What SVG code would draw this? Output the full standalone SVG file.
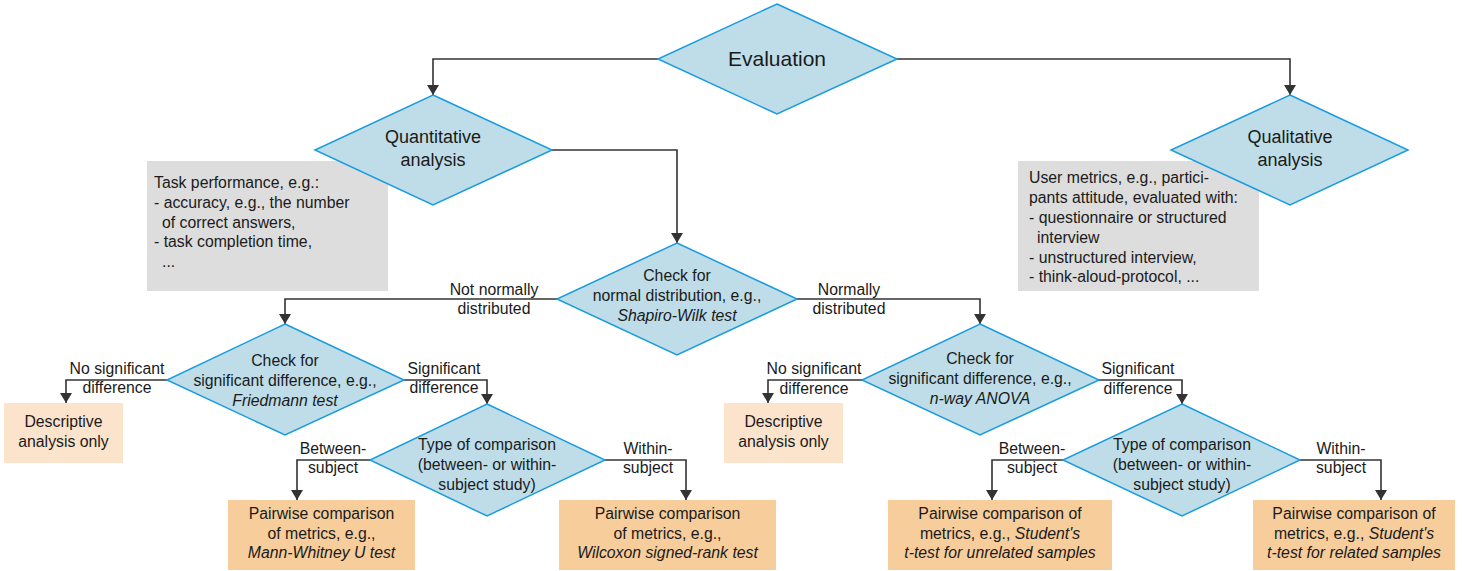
<svg xmlns="http://www.w3.org/2000/svg" width="1467" height="571" viewBox="0 0 1467 571">
<defs>
<style>
text{font-family:"Liberation Sans",Arial,sans-serif;font-size:15.8px;fill:#1a1a1a}
.c{text-anchor:middle}
.big{font-size:21px}
.mid{font-size:18px}
.i{font-style:italic}
.dia{fill:#bedde9;stroke:#199cde;stroke-width:1.5}
.gray{fill:#dddddd}
.desc{fill:#fbe3cc}
.pair{fill:#f7cd9c}
.con{fill:none;stroke:#333;stroke-width:1.6}
</style>
<marker id="ah" markerWidth="10" markerHeight="12" viewBox="0 0 10 12" refX="10" refY="6" orient="auto" markerUnits="userSpaceOnUse">
<path d="M0,0 L10,6 L0,12 Z" fill="#333"/>
</marker>
</defs>
<rect width="1467" height="571" fill="#fff"/>

<g id="note-quant">
<rect class="gray" x="147" y="161" width="241" height="130"/>
<text x="154" y="188">Task performance, e.g.:</text>
<text x="154" y="208">- accuracy, e.g., the number</text>
<text x="162" y="228">of correct answers,</text>
<text x="154" y="247">- task completion time,</text>
<text x="162" y="267">...</text>
</g>
<g id="note-qual">
<rect class="gray" x="1018" y="161" width="241" height="130"/>
<text x="1029" y="183">User metrics, e.g., partici-</text>
<text x="1029" y="203">pants attitude, evaluated with:</text>
<text x="1029" y="223">- questionnaire or structured</text>
<text x="1037" y="243">interview</text>
<text x="1029" y="263">- unstructured interview,</text>
<text x="1029" y="282">- think-aloud-protocol, ...</text>
</g>

<g id="connectors">
<path class="con" d="M658,59 H433 V95" marker-end="url(#ah)"/>
<path class="con" d="M897,59 H1290 V95" marker-end="url(#ah)"/>
<path class="con" d="M552,150 H677 V243" marker-end="url(#ah)"/>
<path class="con" d="M557,299 H285 V324" marker-end="url(#ah)"/>
<path class="con" d="M797,299 H980 V324" marker-end="url(#ah)"/>
<path class="con" d="M167,380 H66 V403" marker-end="url(#ah)"/>
<path class="con" d="M404,380 H487 V404" marker-end="url(#ah)"/>
<path class="con" d="M862,380 H768 V403" marker-end="url(#ah)"/>
<path class="con" d="M1099,380 H1182 V404" marker-end="url(#ah)"/>
<path class="con" d="M370,460 H297 V500" marker-end="url(#ah)"/>
<path class="con" d="M605,460 H686 V500" marker-end="url(#ah)"/>
<path class="con" d="M1063,460 H992 V500" marker-end="url(#ah)"/>
<path class="con" d="M1300,460 H1381 V500" marker-end="url(#ah)"/>
<text class="c" x="494" y="295">Not normally</text>
<text class="c" x="494" y="314">distributed</text>
<text class="c" x="849" y="295">Normally</text>
<text class="c" x="849" y="314">distributed</text>
<text class="c" x="117" y="374">No significant</text>
<text class="c" x="117" y="393">difference</text>
<text class="c" x="444" y="374">Significant</text>
<text class="c" x="444" y="393">difference</text>
<text class="c" x="814" y="374">No significant</text>
<text class="c" x="814" y="394">difference</text>
<text class="c" x="1138" y="374">Significant</text>
<text class="c" x="1138" y="394">difference</text>
<text class="c" x="333" y="454">Between-</text>
<text class="c" x="333" y="473">subject</text>
<text class="c" x="648" y="454">Within-</text>
<text class="c" x="648" y="473">subject</text>
<text class="c" x="1032" y="454">Between-</text>
<text class="c" x="1032" y="473">subject</text>
<text class="c" x="1341" y="454">Within-</text>
<text class="c" x="1341" y="473">subject</text>
</g>

<g id="evaluation">
<polygon class="dia" points="777,4 897,59 777,114 658,59"/>
<text class="c big" x="777" y="66">Evaluation</text>
</g>
<g id="quantitative">
<polygon class="dia" points="433,95 552,150 433,205 315,150"/>
<text class="c mid" x="433" y="143">Quantitative</text>
<text class="c mid" x="433" y="166">analysis</text>
</g>
<g id="qualitative">
<polygon class="dia" points="1290,95 1408,150 1290,205 1171,150"/>
<text class="c mid" x="1290" y="143">Qualitative</text>
<text class="c mid" x="1290" y="166">analysis</text>
</g>
<g id="check-normal">
<polygon class="dia" points="677,243 797,299 677,355 557,299"/>
<text class="c" x="677" y="281">Check for</text>
<text class="c" x="677" y="301">normal distribution, e.g.,</text>
<text class="c i" x="677" y="321">Shapiro-Wilk test</text>
</g>
<g id="check-friedmann">
<polygon class="dia" points="285,324 404,380 285,435 167,380"/>
<text class="c" x="285" y="366">Check for</text>
<text class="c" x="285" y="386">significant difference, e.g.,</text>
<text class="c i" x="285" y="406">Friedmann test</text>
</g>
<g id="check-anova">
<polygon class="dia" points="980,324 1099,380 980,435 862,380"/>
<text class="c" x="980" y="364">Check for</text>
<text class="c" x="980" y="384">significant difference, e.g.,</text>
<text class="c i" x="980" y="404">n-way ANOVA</text>
</g>
<g id="type-left">
<polygon class="dia" points="487,404 605,460 487,516 370,460"/>
<text class="c" x="487" y="450">Type of comparison</text>
<text class="c" x="487" y="470">(between- or within-</text>
<text class="c" x="487" y="490">subject study)</text>
</g>
<g id="type-right">
<polygon class="dia" points="1182,404 1300,460 1182,516 1063,460"/>
<text class="c" x="1182" y="450">Type of comparison</text>
<text class="c" x="1182" y="470">(between- or within-</text>
<text class="c" x="1182" y="490">subject study)</text>
</g>
<g id="desc-left">
<rect class="desc" x="4" y="403" width="119" height="60"/>
<text class="c" x="63.5" y="427">Descriptive</text>
<text class="c" x="63.5" y="447">analysis only</text>
</g>
<g id="desc-right">
<rect class="desc" x="724" y="403" width="119" height="60"/>
<text class="c" x="783.5" y="427">Descriptive</text>
<text class="c" x="783.5" y="447">analysis only</text>
</g>
<g id="pair-mann">
<rect class="pair" x="228" y="500" width="187" height="70"/>
<text class="c" x="321.5" y="519">Pairwise comparison</text>
<text class="c" x="321.5" y="539">of metrics, e.g.,</text>
<text class="c i" x="321.5" y="558">Mann-Whitney U test</text>
</g>
<g id="pair-wilcoxon">
<rect class="pair" x="559" y="500" width="217" height="70"/>
<text class="c" x="667.5" y="519">Pairwise comparison</text>
<text class="c" x="667.5" y="539">of metrics, e.g.,</text>
<text class="c i" x="667.5" y="558">Wilcoxon signed-rank test</text>
</g>
<g id="pair-ttest-unrelated">
<rect class="pair" x="888" y="500" width="224" height="70"/>
<text class="c" x="1000" y="519">Pairwise comparison of</text>
<text class="c" x="1000" y="539">metrics, e.g., <tspan class="i">Student's</tspan></text>
<text class="c i" x="1000" y="558">t-test for unrelated samples</text>
</g>
<g id="pair-ttest-related">
<rect class="pair" x="1253" y="500" width="202" height="70"/>
<text class="c" x="1354" y="519">Pairwise comparison of</text>
<text class="c" x="1354" y="539">metrics, e.g., <tspan class="i">Student's</tspan></text>
<text class="c i" x="1354" y="558">t-test for related samples</text>
</g>
</svg>
